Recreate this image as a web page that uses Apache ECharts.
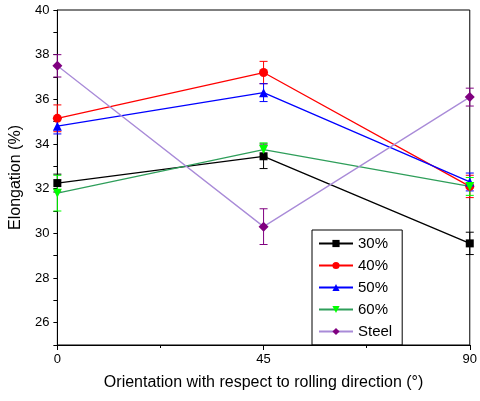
<!DOCTYPE html>
<html><head><meta charset="utf-8">
<script src="https://cdn.jsdelivr.net/npm/echarts@6/dist/echarts.min.js"></script>
<style>body{margin:0;background:#fff}#c{width:480px;height:401px}</style>
</head><body><div id="c"></div>
<script>
// data
const xCats = [0, 45, 90];
const names = ['30%', '40%', '50%', '60%', 'Steel'];
const s30 = [32.25, 33.45, 29.55];
const s40 = [35.15, 37.2, 32.1];
const s50 = [34.8, 36.3, 32.3];
const s60 = [31.8, 33.75, 32.1];
const sSteel = [37.5, 30.3, 36.1];
const e30 = [0.4, 0.55, 0.5];
const e40 = [0.6, 0.5, 0.5];
const e50 = [0.35, 0.4, 0.4];
const e60 = [0.8, 0.3, 0.4];
const eSteel = [0.5, 0.8, 0.4];

const vals = [s30, s40, s50, s60, sSteel];
const errs = [e30, e40, e50, e60, eSteel];
const lineCols = ['#000000', '#ff0000', '#0000ff', '#2e9e5a', '#a98bd8'];
const markCols = ['#000000', '#ff0000', '#0000ff', '#00ff00', '#800080'];
const symbols = ['rect', 'circle', 'triangle', 'path://M0,0 L10,0 L5,9 Z', 'diamond'];
const sizes = [8, 9, 9, 9, 10];

const series = [];
names.forEach((n, i) => {
  series.push({
    type: 'custom', name: n + ' err', z: 1,
    data: xCats.map((x, k) => [x, vals[i][k] - errs[i][k], vals[i][k] + errs[i][k]]),
    renderItem: (p, api) => {
      const lo = api.coord([api.value(0), api.value(1)]);
      const hi = api.coord([api.value(0), api.value(2)]);
      const st = { stroke: markCols[i], lineWidth: 1 };
      return { type: 'group', children: [
        { type: 'line', shape: { x1: lo[0], y1: lo[1], x2: hi[0], y2: hi[1] }, style: st },
        { type: 'line', shape: { x1: lo[0] - 4, y1: lo[1], x2: lo[0] + 4, y2: lo[1] }, style: st },
        { type: 'line', shape: { x1: hi[0] - 4, y1: hi[1], x2: hi[0] + 4, y2: hi[1] }, style: st }
      ]};
    }
  });
  series.push({
    type: 'line', name: n, z: 3,
    data: xCats.map((x, k) => [x, vals[i][k]]),
    symbol: symbols[i], symbolSize: sizes[i], showSymbol: true,
    lineStyle: { color: lineCols[i], width: 1.3 },
    itemStyle: { color: markCols[i] }
  });
});

const chart = echarts.init(document.getElementById('c'));
chart.setOption({
  animation: false,
  textStyle: { fontFamily: 'Liberation Sans, Arial' },
  grid: { left: 55, right: 8, top: 10, bottom: 56, show: true, borderColor: '#000', borderWidth: 1 },
  legend: {
    data: names, orient: 'vertical', left: 312, top: 230,
    borderColor: '#000', borderWidth: 1, padding: [6, 10, 6, 6],
    itemWidth: 34, itemHeight: 9, itemGap: 7,
    textStyle: { fontSize: 15, color: '#000' }
  },
  xAxis: {
    type: 'value', min: 0, max: 90, interval: 45,
    name: 'Orientation with respect to rolling direction (°)',
    nameLocation: 'middle', nameGap: 30,
    nameTextStyle: { fontSize: 16, color: '#000' },
    axisLine: { lineStyle: { color: '#000' } },
    axisTick: { lineStyle: { color: '#000' } },
    minorTick: { show: true, splitNumber: 2, lineStyle: { color: '#000' } },
    axisLabel: { fontSize: 13, color: '#000' },
    splitLine: { show: false }
  },
  yAxis: {
    type: 'value', min: 25, max: 40, interval: 1,
    name: 'Elongation (%)', nameLocation: 'middle', nameGap: 30,
    nameTextStyle: { fontSize: 16, color: '#000' },
    axisLine: { show: true, lineStyle: { color: '#000' } },
    axisTick: { show: true, length: 4, lineStyle: { color: '#000' } },
    axisLabel: { fontSize: 13, color: '#000', formatter: v => v % 2 === 0 ? v : '' },
    splitLine: { show: false }
  },
  series
});
</script></body></html>
